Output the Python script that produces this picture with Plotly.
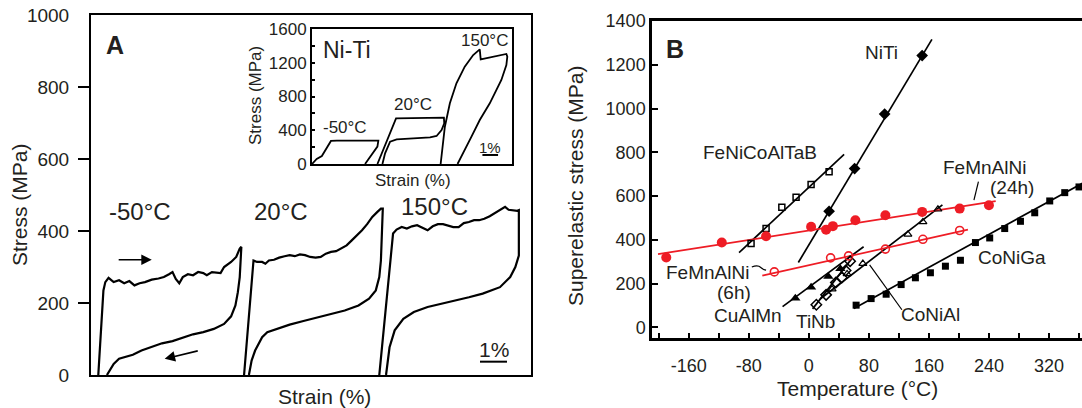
import plotly.graph_objects as go

W, H = 1082, 408
FONT = "Liberation Sans, Arial, sans-serif"
RED = "#ee1c25"


def px(x):
    return x / W


def py(y):
    return 1 - y / H


# ---------------- Panel A : stress-strain loops (strain in %, stress in MPa)
a_m50_strain = [0.27, 0.46, 0.53, 0.65, 0.84, 1.04, 1.23, 1.42, 1.61, 1.80, 2.00, 2.25, 2.50, 2.70, 2.89,
                3.02, 3.14, 3.27, 3.40, 3.59, 3.78, 3.97, 4.16, 4.29, 4.48, 4.68, 4.80, 4.93, 5.19, 5.38,
                5.51, 5.57, 5.54, 5.51, 5.44, 5.35, 5.19, 4.93, 4.55, 4.16, 3.78, 3.40, 3.02, 2.63, 2.25,
                1.87, 1.55, 1.29, 1.04, 0.84, 0.69, 0.59]
a_m50_stress = [0, 235, 258, 270, 258, 263, 255, 261, 249, 255, 258, 265, 268, 272, 280,
                286, 267, 255, 272, 280, 277, 286, 283, 277, 286, 283, 283, 300, 314, 328,
                351, 356, 318, 272, 230, 193, 163, 142, 128, 119, 113, 103, 94, 88, 79,
                68, 56, 51, 45, 31, 14, 0]

a_20_strain = [5.67, 5.84, 6.02, 6.15, 6.34, 6.46, 6.59, 6.78, 6.97, 7.17, 7.36, 7.55, 7.74, 7.93, 8.12,
               8.32, 8.51, 8.70, 8.89, 9.08, 9.27, 9.47, 9.66, 9.85, 10.04, 10.23, 10.42, 10.61, 10.74,
               10.81, 10.78, 10.74, 10.68, 10.55, 10.30, 9.91, 9.40, 8.89, 8.38, 7.87, 7.36, 6.85, 6.53,
               6.34, 6.08, 5.95, 5.85]
a_20_stress = [0, 160, 318, 314, 314, 309, 318, 320, 326, 330, 333, 330, 335, 333, 328,
               326, 328, 337, 342, 344, 351, 360, 374, 388, 402, 419, 439, 453, 462,
               462, 393, 318, 272, 235, 212, 193, 179, 170, 159, 150, 140, 128, 119,
               105, 68, 40, 0]

a_150_strain = [10.68, 10.94, 11.19, 11.32, 11.51, 11.70, 11.89, 12.08, 12.27, 12.47, 12.66, 12.85, 13.04,
                13.23, 13.42, 13.62, 13.81, 14.00, 14.19, 14.38, 14.57, 14.77, 14.96, 15.15, 15.34, 15.47,
                15.66, 15.79, 15.85, 15.85, 15.85, 15.72, 15.53, 15.15, 14.51, 14.00, 13.49, 12.98, 12.47,
                11.96, 11.57, 11.25, 11.06, 10.93]
a_150_stress = [0, 200, 393, 404, 411, 407, 413, 416, 409, 402, 413, 419, 419,
                416, 411, 411, 422, 425, 430, 430, 434, 441, 450, 458, 467, 459,
                456, 456, 458, 411, 332, 300, 272, 244, 226, 216, 207, 198, 189,
                175, 156, 124, 77, 0]

# ---------------- Inset : Ni-Ti loops
in_m50_strain = [0.0, 0.30, 0.63, 0.85, 1.21, 1.59, 4.24, 4.18, 3.88, 3.50, 3.39]
in_m50_stress = [0, 60, 95, 166, 273, 277, 277, 206, 127, 28, 0]
in_20_strain = [4.18, 5.37, 8.43, 8.45, 8.28, 7.96, 7.54, 5.41, 4.99, 4.67, 4.50]
in_20_stress = [0, 541, 549, 482, 403, 332, 316, 293, 265, 127, 0]
in_150_strain = [8.22, 8.49, 8.81, 9.23, 9.76, 10.30, 10.72, 10.78, 12.42, 12.48, 12.42, 12.10, 11.36,
                 10.72, 10.19, 9.66, 9.30]
in_150_stress = [0, 442, 719, 956, 1154, 1292, 1359, 1240, 1304, 1272, 1173, 996, 719,
                 521, 324, 127, 0]

# ---------------- Panel B : superelastic stress vs temperature
niti_T = [27, 61, 101, 151]
niti_S = [531, 726, 975, 1242]
niti_fit_T = [-14, 164]
niti_fit_S = [297, 1316]

feni_T = [-77, -57, -36, -17, 3, 27]
feni_S = [384, 452, 549, 595, 653, 711]
feni_fit_T = [-93, 47]
feni_fit_S = [342, 791]

fm24_T = [-190, -116, -57, 3, 23, 32, 62, 102, 151, 201, 240]
fm24_S = [320, 388, 417, 460, 447, 463, 490, 513, 528, 543, 558]
fm24_fit_T = [-201, 249]
fm24_fit_S = [335, 577]

fm6_T = [-46, 29, 53, 102, 152, 201]
fm6_S = [254, 318, 327, 358, 403, 443]
fm6_fit_T = [-62, 212]
fm6_fit_S = [237, 447]

cualmn_T = [-18, 3, 26, 42]
cualmn_S = [134, 184, 233, 268]
cualmn_fit_T = [-35, 73]
cualmn_fit_S = [95, 369]

tinb_T = [10, 23, 36, 44, 49, 55]
tinb_S = [104, 149, 205, 228, 260, 303]
tinb_fit_T = [5, 58]
tinb_fit_S = [85, 318]

conial_T = [31, 51, 72, 132, 152, 172]
conial_S = [175, 245, 292, 425, 482, 540]
conial_fit_T = [15, 178]
conial_fit_S = [130, 560]

conig_T = [63, 83, 103, 123, 142, 162, 182, 202, 222, 241, 261, 282, 301, 321, 341, 360]
conig_S = [102, 132, 152, 196, 227, 250, 280, 307, 388, 409, 452, 485, 524, 578, 616, 642]
conig_fit_T = [60, 365]
conig_fit_S = [87, 660]

b_xticks = [-200, -160, -120, -80, -40, 0, 40, 80, 120, 160, 200, 240, 280, 320, 360]
b_xticktext = ["", "-160", "", "-80", "", "0", "", "80", "", "160", "", "240", "", "320", ""]
b_yticks = [0, 200, 400, 600, 800, 1000, 1200, 1400]

fig = go.Figure()

# Panel A curves
for xs, ys in [(a_m50_strain, a_m50_stress), (a_20_strain, a_20_stress), (a_150_strain, a_150_stress)]:
    fig.add_trace(go.Scatter(x=xs, y=ys, mode="lines", line=dict(color="black", width=2.2),
                             xaxis="x", yaxis="y", showlegend=False, hoverinfo="skip"))
# Inset curves
for xs, ys in [(in_m50_strain, in_m50_stress), (in_20_strain, in_20_stress), (in_150_strain, in_150_stress)]:
    fig.add_trace(go.Scatter(x=xs, y=ys, mode="lines", line=dict(color="black", width=1.8),
                             xaxis="x2", yaxis="y2", showlegend=False, hoverinfo="skip"))

# Panel B fit lines
fits = [
    (niti_fit_T, niti_fit_S, "black"), (feni_fit_T, feni_fit_S, "black"),
    (cualmn_fit_T, cualmn_fit_S, "black"), (tinb_fit_T, tinb_fit_S, "black"),
    (conial_fit_T, conial_fit_S, "black"), (conig_fit_T, conig_fit_S, "black"),
    (fm24_fit_T, fm24_fit_S, RED), (fm6_fit_T, fm6_fit_S, RED),
]
for xs, ys, c in fits:
    fig.add_trace(go.Scatter(x=xs, y=ys, mode="lines", line=dict(color=c, width=1.7),
                             xaxis="x3", yaxis="y3", showlegend=False, hoverinfo="skip"))

pts = [
    (feni_T, feni_S, "square-open", 6, "black", 1.5),
    (niti_T, niti_S, "diamond", 9, "black", 0),
    (cualmn_T, cualmn_S, "triangle-up", 9, "black", 0),
    (tinb_T, tinb_S, "diamond-open", 8, "black", 1.5),
    (conial_T, conial_S, "triangle-up-open", 7, "black", 1.2),
    (conig_T, conig_S, "square", 7, "black", 0),
    (fm24_T, fm24_S, "circle", 10, RED, 0),
    (fm6_T, fm6_S, "circle-open", 8, RED, 1.6),
]
for xs, ys, sym, sz, c, lw in pts:
    mk = dict(symbol=sym, size=sz, color=c)
    if lw:
        mk["line"] = dict(color=c, width=lw)
    fig.add_trace(go.Scatter(x=xs, y=ys, mode="markers", marker=mk,
                             xaxis="x3", yaxis="y3", showlegend=False, hoverinfo="skip"))

axis_common = dict(showgrid=False, zeroline=False, linecolor="black", showline=True, automargin=False)

fig.update_layout(
    template="none",
    width=W, height=H, margin=dict(l=0, r=0, t=0, b=0, autoexpand=False),
    paper_bgcolor="white", plot_bgcolor="white",
    font=dict(family=FONT, color="#231f20"),
    xaxis=dict(axis_common, domain=[px(91), px(531)], range=[0, 16.3], mirror=True, linewidth=2,
               showticklabels=False, ticks="", anchor="y"),
    yaxis=dict(axis_common, domain=[py(375), py(15)], range=[0, 1000], mirror=True, linewidth=2,
               tickvals=[0, 200, 400, 600, 800, 1000], ticks="", ticklabelstandoff=16,
               tickfont=dict(size=19),
               minor=dict(tickvals=[200, 400, 600, 800], ticks="outside", ticklen=11, tickwidth=2,
                          tickcolor="black"),
               anchor="x"),
    xaxis2=dict(axis_common, domain=[px(312), px(512)], range=[0, 12.78], mirror=True, linewidth=2,
                showticklabels=False, ticks="", anchor="y2"),
    yaxis2=dict(axis_common, domain=[py(164), py(29)], range=[0, 1600], mirror=True, linewidth=2,
                tickvals=[0, 400, 800, 1200, 1600], ticks="inside", ticklen=3, tickwidth=1.5,
                tickcolor="black", tickfont=dict(size=17),
                minor=dict(tickvals=[200, 600, 1000, 1400], ticks="inside", ticklen=3, tickwidth=1.5,
                           tickcolor="black"),
                anchor="x2"),
    xaxis3=dict(axis_common, domain=[px(652), 1.0], range=[-209, 364], mirror=True, linewidth=2.5,
                tickvals=b_xticks, ticktext=b_xticktext, ticks="inside", ticklen=5, tickwidth=2,
                tickcolor="black", tickfont=dict(size=18), ticklabelstandoff=10, anchor="y3"),
    yaxis3=dict(axis_common, domain=[py(338), py(21)], range=[-48, 1400], mirror=False, linewidth=2.5,
                tickvals=b_yticks, ticks="inside", ticklen=6, tickwidth=2, tickcolor="black",
                tickfont=dict(size=18), anchor="x3"),
)

ann = []


def text(x, y, s, size, bold=False, angle=0, xanchor="center"):
    ann.append(dict(x=px(x), y=py(y), xref="paper", yref="paper", text=f"<b>{s}</b>" if bold else s,
                    showarrow=False, font=dict(size=size, family=FONT, color="#231f20"),
                    textangle=angle, xanchor=xanchor, yanchor="middle"))


# Panel A text
text(19, 205, "Stress (MPa)", 21, angle=-90)
text(324, 396, "Strain (%)", 21)
text(115, 45, "A", 25, bold=True)
text(140, 211, "-50°C", 24)
text(281, 211, "20°C", 24)
text(434, 206, "150°C", 24)
text(494, 349, "1%", 21)
# Inset text
text(347, 50, "Ni-Ti", 23)
text(484, 41, "150°C", 17)
text(413, 104, "20°C", 17)
text(345, 127, "-50°C", 17)
text(490, 147, "1%", 15)
text(413, 180, "Strain (%)", 17)
text(255, 96, "Stress (MPa)", 17, angle=-90)
# Panel B text
text(576, 186, "Superelastic stress (MPa)", 21, angle=-90)
text(857, 388, "Temperature (°C)", 21)
text(675, 49, "B", 25, bold=True)
text(881, 53, "NiTi", 19)
text(760, 152, "FeNiCoAlTaB", 19)
text(984, 167, "FeMnAlNi", 19)
text(1012, 188, "(24h)", 19)
text(707, 272, "FeMnAlNi", 19)
text(734, 292, "(6h)", 19)
text(748, 315, "CuAlMn", 19)
text(815, 321, "TiNb", 19)
text(930, 314, "CoNiAl", 19)
text(1012, 257, "CoNiGa", 19)

# arrows in panel A
ann.append(dict(x=2.25, y=320, ax=0.97, ay=320, xref="x", yref="y", axref="x", ayref="y",
                showarrow=True, arrowhead=2, arrowsize=1.3, arrowwidth=1.6, arrowcolor="black", text=""))
ann.append(dict(x=2.73, y=45, ax=4.01, ay=68, xref="x", yref="y", axref="x", ayref="y",
                showarrow=True, arrowhead=2, arrowsize=1.3, arrowwidth=1.6, arrowcolor="black", text=""))
fig.update_layout(annotations=ann)

shapes = [
    # scale bars
    dict(type="line", xref="x", yref="y", x0=14.41, x1=15.41, y0=37, y1=37, line=dict(color="black", width=2)),
    dict(type="line", xref="x2", yref="y2", x0=10.89, x1=11.89, y0=107, y1=107,
         line=dict(color="black", width=2)),
    # leader lines in panel B
    dict(type="line", xref="x3", yref="y3", x0=226, y0=666, x1=220, y1=582, line=dict(color="black", width=1.2)),
    dict(type="line", xref="x3", yref="y3", x0=81, y0=286, x1=124, y1=81, line=dict(color="black", width=1.2)),
    dict(type="path", xref="x3", yref="y3", path="M -76,276 Q -68,288 -64,274 Q -61,264 -57,262",
         line=dict(color="black", width=1.2)),
]
fig.update_layout(shapes=shapes)

fig.write_html("out.html", config={"displayModeBar": False},
               post_script="document.body.style.margin='0';document.body.style.overflow='hidden';")
